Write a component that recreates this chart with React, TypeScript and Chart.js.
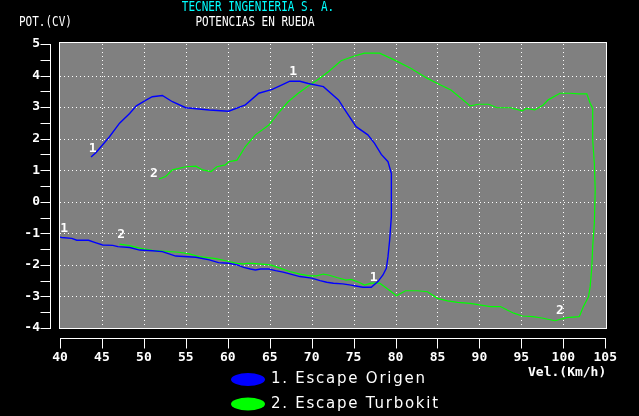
import React, { useEffect, useRef } from 'react';
import { Chart, registerables } from 'chart.js';

Chart.register(...registerables);

// ---- data ----
const speedOrigen = [
  43.7, 44.3, 45.9, 47.1, 48.3, 49.1, 50.3, 51.0, 52.2, 53.4, 55.0, 57.8, 60.1, 62.1, 63.7, 65.3,
  66.4, 67.4, 68.6, 69.6, 71.4, 73.2, 74.1, 75.3, 76.7, 77.5, 78.3, 79.1, 79.5, 79.5, 79.3, 79.1,
  78.9, 78.5, 77.9, 77.1, 76.1, 75.1, 74.7, 73.7, 72.6, 71.8, 71.0, 70.0, 68.6, 67.6, 66.6, 65.7,
  64.9, 63.9, 63.3, 62.7, 61.9, 61.1, 60.1, 58.9, 57.8, 56.2, 53.8, 52.2, 51.0, 49.5, 48.3, 46.9,
  46.3, 45.1, 44.3, 43.4, 42.0, 41.4, 40.2, 40.0,
];
const powerOrigen = [
  1.42, 1.56, 2.06, 2.49, 2.8, 3.04, 3.23, 3.33, 3.37, 3.17, 2.98, 2.91, 2.87, 3.07, 3.44, 3.56,
  3.7, 3.82, 3.82, 3.75, 3.65, 3.23, 2.86, 2.38, 2.12, 1.85, 1.5, 1.27, 0.9, -0.47, -1.21, -1.74,
  -2.11, -2.32, -2.53, -2.71, -2.71, -2.66, -2.64, -2.6, -2.58, -2.55, -2.5, -2.42, -2.37, -2.3, -2.23, -2.18,
  -2.13, -2.13, -2.16, -2.13, -2.08, -2.0, -1.95, -1.93, -1.84, -1.76, -1.72, -1.58, -1.55, -1.53, -1.45, -1.42,
  -1.38, -1.37, -1.3, -1.22, -1.22, -1.16, -1.13, -1.12,
];
const speedTurbo = [
  51.8, 52.6, 53.4, 55.0, 56.2, 57.0, 58.0, 58.7, 59.7, 60.1, 61.1, 62.1, 63.3, 64.9, 66.0, 67.2,
  68.4, 69.6, 70.8, 72.0, 73.5, 75.1, 76.3, 78.1, 79.9, 81.8, 83.8, 85.0, 86.6, 87.8, 88.9, 89.9,
  91.1, 92.1, 93.7, 95.1, 95.6, 96.6, 97.6, 98.2, 99.6, 100.8, 101.8, 102.8, 103.2, 103.5, 103.5, 103.7,
  103.8, 103.7, 103.5, 103.4, 103.2, 103.0, 102.4, 101.9, 100.4, 99.0, 97.6, 96.4, 95.1, 94.1, 93.3, 92.5,
  91.3, 88.9, 87.4, 86.2, 85.0, 83.8, 82.6, 81.2, 80.1, 79.5, 78.7, 78.1, 77.1, 76.3, 75.7, 75.1,
  74.7, 74.1, 73.0, 72.0, 71.4, 70.6, 69.8, 68.6, 67.4, 66.3, 65.1, 62.9, 62.3, 61.9, 61.1, 60.3,
  58.6, 56.6, 55.4, 54.2, 51.0, 49.5, 48.3, 47.1,
];
const powerTurbo = [
  0.72, 0.8, 1.01, 1.11, 1.13, 1.01, 0.96, 1.11, 1.17, 1.27, 1.32, 1.75, 2.12, 2.43, 2.8, 3.17,
  3.44, 3.67, 3.88, 4.12, 4.47, 4.62, 4.71, 4.71, 4.49, 4.23, 3.91, 3.75, 3.54, 3.28, 3.04, 3.09,
  3.09, 2.98, 2.98, 2.88, 2.96, 2.91, 3.07, 3.23, 3.44, 3.44, 3.42, 3.42, 3.12, 2.96, 1.96, 1.22,
  0.37, -0.68, -1.42, -2.06, -2.69, -3.01, -3.32, -3.64, -3.67, -3.77, -3.69, -3.64, -3.62, -3.53, -3.43, -3.32,
  -3.32, -3.22, -3.19, -3.14, -3.06, -2.85, -2.82, -2.82, -2.98, -2.85, -2.69, -2.58, -2.58, -2.64, -2.56, -2.5,
  -2.46, -2.48, -2.4, -2.32, -2.29, -2.35, -2.35, -2.29, -2.21, -2.11, -2.0, -1.95, -1.95, -1.97, -1.95, -1.9,
  -1.8, -1.74, -1.65, -1.6, -1.54, -1.47, -1.39, -1.34,
];

const seriesNames = ['1. Escape Origen', '2. Escape Turbokit'];
const seriesColors = ['#0000ff', '#00ff00'];

const curveTagText = ['1', '1', '1', '1', '2', '2', '2'];
const curveTagSpeed = [40.5, 43.9, 67.8, 77.4, 47.3, 51.2, 99.6];
const curveTagPower = [-0.86, 1.7, 4.14, -2.41, -1.05, 0.88, -3.46];

const xMin = 40;
const xMax = 105;
const xStep = 5;
const yMin = -4;
const yMax = 5;
const yStep = 1;

const titleMain = 'TECNER INGENIERIA S. A.';
const titleSub = 'POTENCIAS EN RUEDA';
const yAxisTitle = 'POT.(CV)';
const xAxisTitle = 'Vel.(Km/h)';

const MONO = '"DejaVu Sans Mono", "Liberation Mono", monospace';

const dosPlugin = {
  id: 'dosLook',
  beforeDraw(chart: any) {
    const { ctx, scales } = chart;
    const xs = scales.x;
    const ys = scales.y;
    ctx.save();
    ctx.fillStyle = '#000';
    ctx.fillRect(0, 0, chart.width, chart.height);
    const l = Math.round(xs.getPixelForValue(xMin)) - 1;
    const r = Math.round(xs.getPixelForValue(xMax)) + 2;
    const t = Math.round(ys.getPixelForValue(yMax)) - 2;
    const b = Math.round(ys.getPixelForValue(yMin)) + 1;
    ctx.fillStyle = '#808080';
    ctx.fillRect(l, t, r - l, b - t);
    ctx.strokeStyle = '#ffffff';
    ctx.lineWidth = 1;
    ctx.strokeRect(l + 0.5, t + 0.5, r - l - 1, b - t - 1);
    ctx.restore();
  },
  beforeDatasetsDraw(chart: any) {
    const { ctx, scales } = chart;
    const xs = scales.x;
    const ys = scales.y;
    const l = Math.round(xs.getPixelForValue(xMin));
    const r = Math.round(xs.getPixelForValue(xMax));
    const t = Math.round(ys.getPixelForValue(yMax));
    const b = Math.round(ys.getPixelForValue(yMin));
    ctx.save();
    ctx.strokeStyle = '#ffffff';
    ctx.lineWidth = 1;
    ctx.setLineDash([1, 3]);
    for (let v = xMin + xStep; v < xMax; v += xStep) {
      const px = Math.round(xs.getPixelForValue(v)) + 0.5;
      ctx.beginPath();
      ctx.moveTo(px, t);
      ctx.lineTo(px, b);
      ctx.stroke();
    }
    for (let v = yMin + yStep; v < yMax; v += yStep) {
      const py = Math.round(ys.getPixelForValue(v)) + 0.5;
      ctx.beginPath();
      ctx.moveTo(l, py);
      ctx.lineTo(r, py);
      ctx.stroke();
    }
    ctx.restore();
  },
  afterDraw(chart: any) {
    const { ctx, scales } = chart;
    const xs = scales.x;
    const ys = scales.y;
    ctx.save();
    ctx.strokeStyle = '#ffffff';
    ctx.lineWidth = 1;
    ctx.setLineDash([]);
    // y axis
    const ax = Math.round(xs.getPixelForValue(xMin)) - 9.5;
    const yTop = Math.round(ys.getPixelForValue(yMax));
    const yBot = Math.round(ys.getPixelForValue(yMin));
    ctx.beginPath();
    ctx.moveTo(ax, yTop);
    ctx.lineTo(ax, yBot + 1);
    for (let v = yMin; v <= yMax + 1e-9; v += yStep / 2) {
      const py = Math.round(ys.getPixelForValue(v)) + 0.5;
      ctx.moveTo(ax - 10, py);
      ctx.lineTo(ax + 0.5, py);
    }
    ctx.stroke();
    // x axis
    const ay = yBot + 10.5;
    const xl = Math.round(xs.getPixelForValue(xMin));
    const xr = Math.round(xs.getPixelForValue(xMax));
    ctx.beginPath();
    ctx.moveTo(xl, ay);
    ctx.lineTo(xr + 1, ay);
    for (let v = xMin; v <= xMax; v += xStep) {
      const px = Math.round(xs.getPixelForValue(v)) + 0.5;
      ctx.moveTo(px, ay);
      ctx.lineTo(px, ay + 10);
    }
    ctx.stroke();

    // curve tags
    ctx.fillStyle = '#ffffff';
    ctx.font = `bold 13px ${MONO}`;
    ctx.textAlign = 'center';
    ctx.textBaseline = 'middle';
    curveTagText.forEach((txt, i) => {
      ctx.fillText(txt, xs.getPixelForValue(curveTagSpeed[i]), ys.getPixelForValue(curveTagPower[i]));
    });

    // titles
    ctx.font = `11px ${MONO}`;
    ctx.textAlign = 'center';
    ctx.fillStyle = '#00ffff';
    ctx.save();
    ctx.translate(258, 7);
    ctx.scale(1, 1.25);
    ctx.fillText(titleMain, 0, 0);
    ctx.restore();
    ctx.fillStyle = '#ffffff';
    ctx.save();
    ctx.translate(255, 22);
    ctx.scale(1, 1.25);
    ctx.fillText(titleSub, 0, 0);
    ctx.restore();
    ctx.textAlign = 'left';
    ctx.save();
    ctx.translate(19, 22);
    ctx.scale(1, 1.25);
    ctx.fillText(yAxisTitle, 0, 0);
    ctx.restore();

    // x axis title
    ctx.font = `bold 13px ${MONO}`;
    ctx.fillText(xAxisTitle, 528, 373);

    // legend
    const legendY = [379.5, 404];
    seriesNames.forEach((name, i) => {
      ctx.fillStyle = seriesColors[i];
      ctx.beginPath();
      ctx.ellipse(248, legendY[i], 17, 6.5, 0, 0, Math.PI * 2);
      ctx.fill();
      ctx.fillStyle = '#ffffff';
      ctx.font = '15px "DejaVu Sans", sans-serif';
      (ctx as any).letterSpacing = '1.75px';
      ctx.textAlign = 'left';
      ctx.textBaseline = 'middle';
      ctx.fillText(name, 271, legendY[i]);
      (ctx as any).letterSpacing = '0px';
    });
    ctx.restore();
  },
};

export default function App() {
  const canvasRef = useRef<HTMLCanvasElement | null>(null);

  useEffect(() => {
    document.body.style.margin = '0';
    document.body.style.background = '#000';
    const canvas = canvasRef.current;
    if (!canvas) return;
    const origen = speedOrigen.map((s, i) => ({ x: s, y: powerOrigen[i] }));
    const turbo = speedTurbo.map((s, i) => ({ x: s, y: powerTurbo[i] }));
    const chart = new Chart(canvas, {
      type: 'scatter',
      data: {
        datasets: [
          {
            label: seriesNames[0],
            data: origen,
            showLine: true,
            borderColor: seriesColors[0],
            backgroundColor: seriesColors[0],
            borderWidth: 1.4,
            pointRadius: 0,
            tension: 0,
          },
          {
            label: seriesNames[1],
            data: turbo,
            showLine: true,
            borderColor: seriesColors[1],
            backgroundColor: seriesColors[1],
            borderWidth: 1.2,
            pointRadius: 0,
            tension: 0,
          },
        ],
      },
      options: {
        animation: false,
        responsive: true,
        maintainAspectRatio: false,
        layout: { padding: { top: 44, right: 30, left: 0, bottom: 0 } },
        plugins: {
          legend: { display: false },
          title: { display: false },
          tooltip: { enabled: false },
        },
        scales: {
          x: {
            type: 'linear',
            min: xMin,
            max: xMax,
            grid: { display: false, drawTicks: false, tickLength: 0 },
            border: { display: false },
            ticks: {
              stepSize: xStep,
              color: '#ffffff',
              padding: 22,
              maxRotation: 0,
              autoSkip: false,
              font: { family: MONO, size: 13, weight: 'bold' },
            },
            afterFit: (scale: any) => {
              scale.height = 88;
            },
          },
          y: {
            type: 'linear',
            min: yMin,
            max: yMax,
            grid: { display: false, drawTicks: false, tickLength: 0 },
            border: { display: false },
            ticks: {
              stepSize: yStep,
              color: '#ffffff',
              padding: 20,
              autoSkip: false,
              font: { family: MONO, size: 13, weight: 'bold' },
            },
            afterFit: (scale: any) => {
              scale.width = 60;
            },
          },
        },
      },
      plugins: [dosPlugin],
    });
    return () => chart.destroy();
  }, []);

  return (
    <div style={{ position: 'fixed', left: 0, top: 0, width: 639, height: 416, background: '#000' }}>
      <canvas ref={canvasRef} />
    </div>
  );
}
